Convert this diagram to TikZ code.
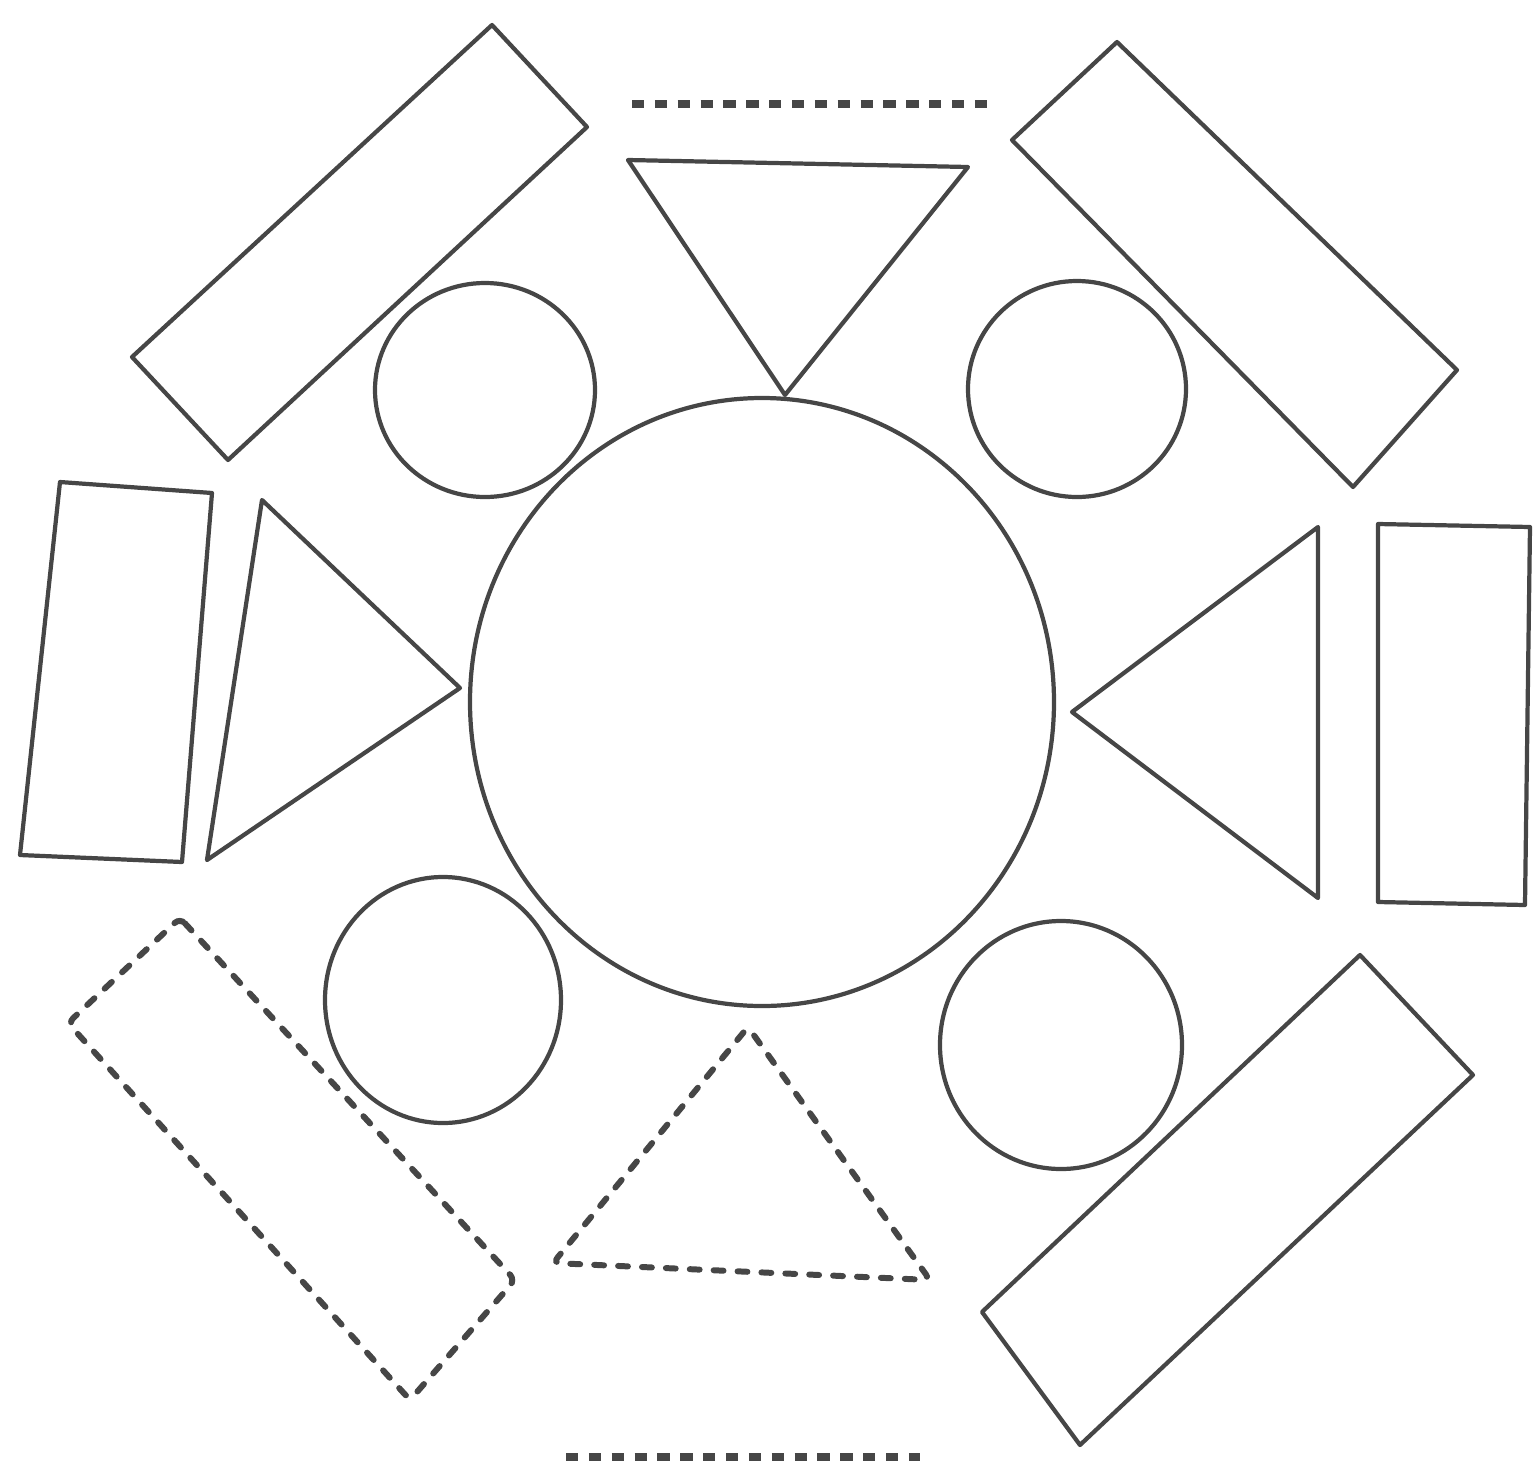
\documentclass[tikz,border=0pt]{standalone}
\usepackage{tikz}
\usetikzlibrary{calc}
\definecolor{ink}{RGB}{70,70,70}
\tikzset{
  solidshape/.style={
    draw = ink,
    line width = 1.2pt,
    line join = round
  },
  dashshape/.style={
    draw = ink,
    line width = 1.7pt,
    line cap = round,
    rounded corners = 2pt,
    dash pattern = on 2.8pt off 4pt
  },
  dotline/.style={
    draw = ink,
    line width = 2pt,
    dash pattern = on 3.5pt off 3pt
  }
}

\begin{document}
\begin{tikzpicture}[x=0.01cm,y=-0.01cm]
  \useasboundingbox (0,0) rectangle (1535,1481);
  % middle
  \draw[solidshape] (762,702) ellipse (292 and 304);
  % small circles
  \draw[solidshape] (485,390) ellipse (110 and 107);
  \draw[solidshape] (1077,389) ellipse (109 and 108);
  \draw[solidshape] (443,1000) ellipse (118 and 123);
  \draw[solidshape] (1061,1045) ellipse (121 and 124);
  % triangles
  \draw[solidshape] (628,160) -- (968,167) -- (785,395) -- cycle;
  \draw[solidshape] (262,500) -- (460,688) -- (207,860) -- cycle;
  \draw[solidshape] (1318,527) -- (1072,712) -- (1318,898) -- cycle;
  \draw[dashshape] (748,1027) -- (553,1263) -- (930,1280) -- cycle;
  % rectangles
  \draw[solidshape] (132,357) -- (492,25) -- (587,127) -- (228,460) -- cycle;
  \draw[solidshape] (1012,140) -- (1117,42) -- (1457,370) -- (1353,487) -- cycle;
  \draw[solidshape] (60,482) -- (212,493) -- (182,862) -- (20,855) -- cycle;
  \draw[solidshape] (1378,524) -- (1530,527) -- (1525,905) -- (1378,902) -- cycle;
  \draw[solidshape] (982,1312) -- (1360,955) -- (1473,1075) -- (1080,1445) -- cycle;
  \draw[dashshape] (180,918) -- (515,1280) -- (410,1400) -- (68,1023) -- cycle;
  % dotted bars
  \draw[dotline] (632,104) -- (992,104);
  \draw[dotline] (566,1457) -- (920,1457);
\end{tikzpicture}
\end{document}
